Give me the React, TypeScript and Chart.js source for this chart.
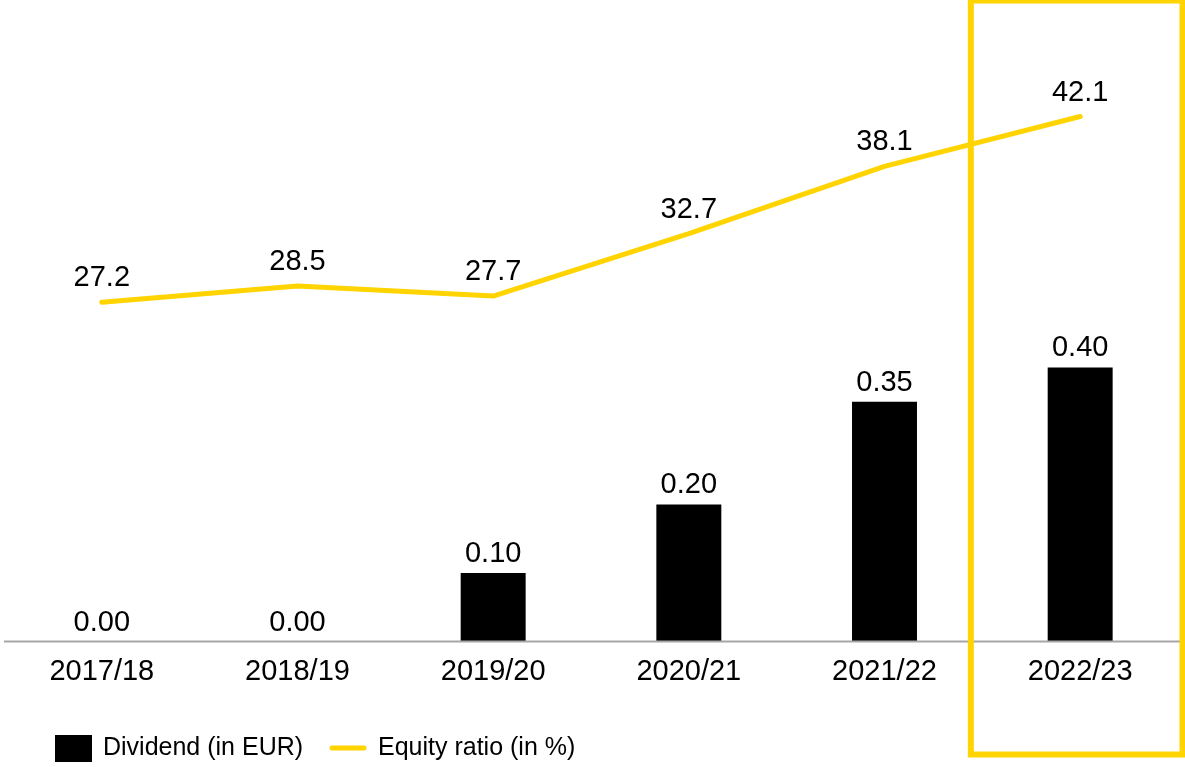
import React, { useEffect, useRef } from "react";
import { Chart, registerables } from "chart.js";

Chart.register(...registerables);

const categories = ["2017/18", "2018/19", "2019/20", "2020/21", "2021/22", "2022/23"];
const dividend = [0.0, 0.0, 0.1, 0.2, 0.35, 0.4];
const equityRatio = [27.2, 28.5, 27.7, 32.7, 38.1, 42.1];
const legendLabels = ["Dividend (in EUR)", "Equity ratio (in %)"];
const highlightIndex = 5;

const YELLOW = "#FFD400";
const FONT = "'Liberation Sans', Arial, sans-serif";

export default function App() {
  const ref = useRef<HTMLCanvasElement | null>(null);

  useEffect(() => {
    const canvas = ref.current;
    if (!canvas) return;

    const overlay = {
      id: "overlay",
      afterDatasetsDraw(chart: any) {
        const ctx = chart.ctx;
        const area = chart.chartArea;
        const xs = chart.scales.x;
        ctx.save();
        // baseline
        ctx.strokeStyle = "#a6a6a6";
        ctx.lineWidth = 2;
        ctx.beginPath();
        ctx.moveTo(area.left, area.bottom);
        ctx.lineTo(chart.width, area.bottom);
        ctx.stroke();

        ctx.fillStyle = "#000";
        ctx.font = `29px ${FONT}`;
        ctx.textAlign = "center";
        ctx.textBaseline = "alphabetic";
        const barMeta = chart.getDatasetMeta(0);
        barMeta.data.forEach((el: any, i: number) => {
          ctx.fillText(dividend[i].toFixed(2), el.x, el.y - 11);
        });
        const lineMeta = chart.getDatasetMeta(1);
        lineMeta.data.forEach((el: any, i: number) => {
          ctx.fillText(equityRatio[i].toFixed(1), el.x, el.y - 16);
        });

        // highlight box
        const c = xs.getPixelForValue(highlightIndex);
        const half = (xs.getPixelForValue(1) - xs.getPixelForValue(0)) / 2;
        const left = c - half - 11.5;
        const right = c + half + 4.5;
        ctx.strokeStyle = YELLOW;
        ctx.lineWidth = 6;
        ctx.strokeRect(left, 0.5, right - left, 754);

        // legend
        ctx.font = `25px ${FONT}`;
        ctx.textAlign = "left";
        ctx.textBaseline = "middle";
        const ly = 748;
        ctx.fillStyle = "#000";
        ctx.fillRect(55, ly - 13, 37, 27);
        ctx.fillText(legendLabels[0], 103, ly);
        ctx.strokeStyle = YELLOW;
        ctx.lineWidth = 5;
        ctx.lineCap = "round";
        ctx.beginPath();
        ctx.moveTo(332, ly);
        ctx.lineTo(364, ly);
        ctx.stroke();
        ctx.fillStyle = "#000";
        ctx.fillText(legendLabels[1], 378, ly);
        ctx.restore();
      },
    };

    const chart = new Chart(canvas, {
      type: "bar",
      data: {
        labels: categories,
        datasets: [
          {
            type: "bar",
            label: legendLabels[0],
            data: dividend,
            backgroundColor: "#000",
            yAxisID: "y",
            categoryPercentage: 1,
            barPercentage: 0.332,
            order: 2,
          },
          {
            type: "line",
            label: legendLabels[1],
            data: equityRatio,
            borderColor: YELLOW,
            backgroundColor: YELLOW,
            borderWidth: 5,
            borderCapStyle: "round",
            borderJoinStyle: "round",
            pointRadius: 0,
            tension: 0,
            yAxisID: "y1",
            order: 1,
          },
        ],
      },
      options: {
        responsive: false,
        animation: false,
        devicePixelRatio: 1,
        layout: { padding: { top: 18, left: 4, right: 7, bottom: 0 } },
        plugins: { legend: { display: false }, tooltip: { enabled: false } },
        scales: {
          x: {
            grid: { display: false, drawTicks: false },
            border: { display: false },
            ticks: {
              color: "#000",
              font: { family: FONT, size: 29 },
              padding: 13,
              maxRotation: 0,
            },
            afterFit: (scale: any) => {
              scale.height = 125.5;
            },
          },
          y: { display: false, min: 0, max: 0.91 },
          y1: { display: false, min: 0, max: 50, position: "right" },
        },
      },
      plugins: [overlay],
    } as any);

    return () => chart.destroy();
  }, []);

  return (
    <div style={{ position: "absolute", left: 0, top: 0, width: 1185, height: 767, background: "#fff" }}>
      <canvas ref={ref} width={1185} height={767} style={{ display: "block" }} />
    </div>
  );
}
